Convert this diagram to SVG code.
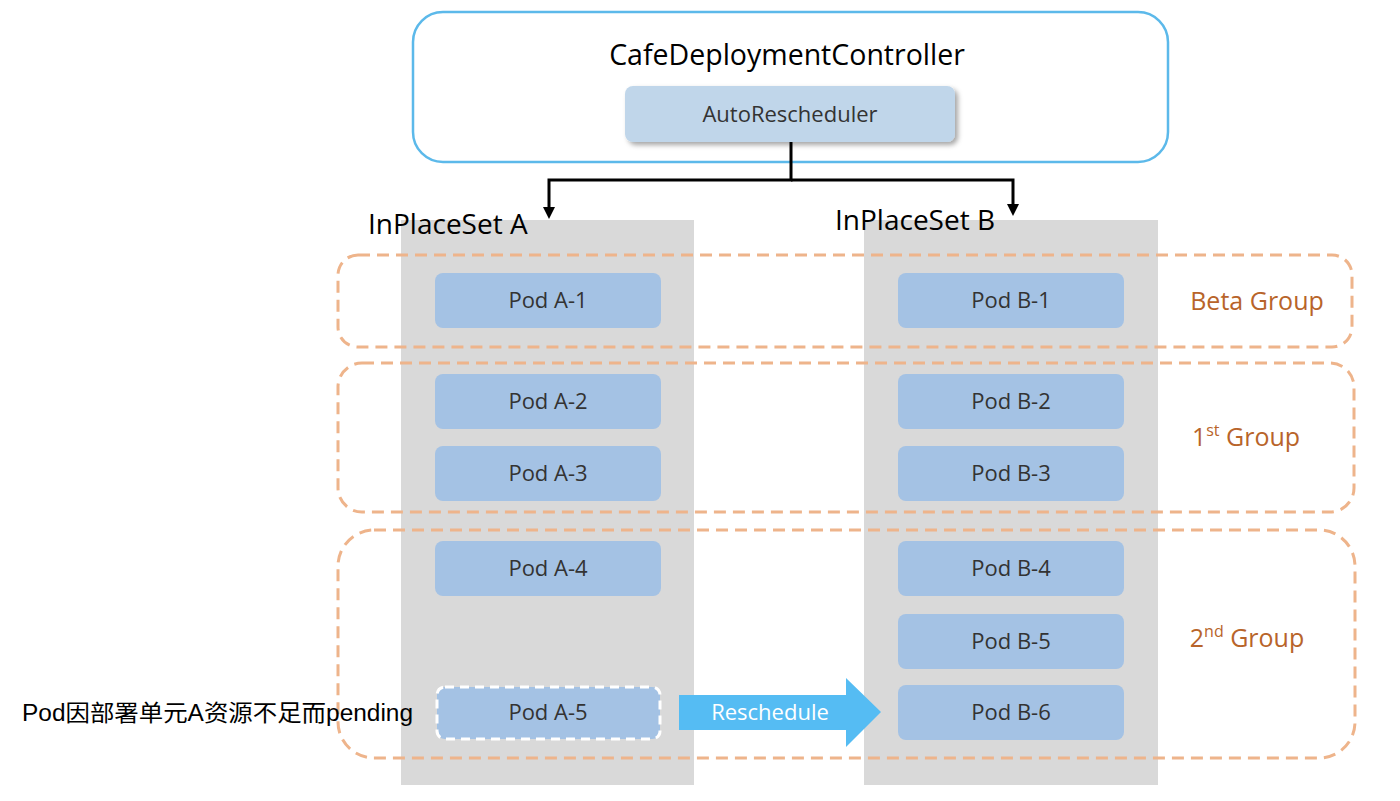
<svg xmlns="http://www.w3.org/2000/svg" width="1400" height="801" viewBox="0 0 1400 801">
<defs>
<style>
.col{fill:#d9d9d9;}
.pod{fill:#a4c2e4;}
.podt{font-family:"Open Sans","Liberation Sans",sans-serif;font-size:22px;fill:#333;text-anchor:middle;}
.grp{fill:none;stroke:#eeb48b;stroke-width:3;stroke-dasharray:12 7;}
.gl{font-family:"Open Sans","Liberation Sans",sans-serif;font-size:25px;fill:#b8642a;text-anchor:middle;}
.conn{fill:none;stroke:#000;stroke-width:3;}
</style>
<filter id="sh" x="-10%" y="-20%" width="130%" height="160%">
<feDropShadow dx="3" dy="3" stdDeviation="2.5" flood-color="#000" flood-opacity="0.35"/>
</filter>
</defs>
<rect width="1400" height="801" fill="#fff"/>

<g id="controller">
<rect x="413" y="12" width="755" height="150" rx="30" fill="#fff" stroke="#5cb9ea" stroke-width="2.5"/>
<text x="787" y="65" font-family="Open Sans, Liberation Sans, sans-serif" font-size="28.5" text-anchor="middle" fill="#000">CafeDeploymentController</text>
</g>
<g id="autorescheduler">
<rect x="625" y="86" width="330" height="56" rx="8" fill="#c0d6ea" filter="url(#sh)"/>
<text x="790" y="122" font-family="Open Sans, Liberation Sans, sans-serif" font-size="22" text-anchor="middle" fill="#333">AutoRescheduler</text>
</g>

<g id="inplaceset-a">
<rect class="col" x="401" y="220" width="293" height="565"/>
<text x="368" y="234" font-family="Open Sans, Liberation Sans, sans-serif" font-size="28" fill="#000">InPlaceSet A</text>
</g>
<g id="inplaceset-b">
<rect class="col" x="864" y="220" width="294" height="565"/>
<text x="835" y="230" font-family="Open Sans, Liberation Sans, sans-serif" font-size="28" fill="#000">InPlaceSet B</text>
</g>

<g id="connectors">
<polyline class="conn" points="791,142 791,180 549,180 549,210"/>
<polyline class="conn" points="791,180 1013,180 1013,207"/>
<path d="M543,207 L555,207 L549,219 Z" fill="#000"/>
<path d="M1007,204 L1019,204 L1013,216 Z" fill="#000"/>
</g>

<g id="pod-a1"><rect class="pod" x="435" y="273" width="226" height="55" rx="8"/><text class="podt" x="548" y="308">Pod A-1</text></g>
<g id="pod-a2"><rect class="pod" x="435" y="374" width="226" height="55" rx="8"/><text class="podt" x="548" y="409">Pod A-2</text></g>
<g id="pod-a3"><rect class="pod" x="435" y="446" width="226" height="55" rx="8"/><text class="podt" x="548" y="481">Pod A-3</text></g>
<g id="pod-a4"><rect class="pod" x="435" y="541" width="226" height="55" rx="8"/><text class="podt" x="548" y="576">Pod A-4</text></g>
<g id="pod-a5"><rect class="pod" x="437" y="687" width="223" height="52" rx="8" stroke="#fff" stroke-width="3" stroke-dasharray="9 6"/><text class="podt" x="548" y="720">Pod A-5</text></g>

<g id="pod-b1"><rect class="pod" x="898" y="273" width="226" height="55" rx="8"/><text class="podt" x="1011" y="308">Pod B-1</text></g>
<g id="pod-b2"><rect class="pod" x="898" y="374" width="226" height="55" rx="8"/><text class="podt" x="1011" y="409">Pod B-2</text></g>
<g id="pod-b3"><rect class="pod" x="898" y="446" width="226" height="55" rx="8"/><text class="podt" x="1011" y="481">Pod B-3</text></g>
<g id="pod-b4"><rect class="pod" x="898" y="541" width="226" height="55" rx="8"/><text class="podt" x="1011" y="576">Pod B-4</text></g>
<g id="pod-b5"><rect class="pod" x="898" y="614" width="226" height="55" rx="8"/><text class="podt" x="1011" y="649">Pod B-5</text></g>
<g id="pod-b6"><rect class="pod" x="898" y="685" width="226" height="55" rx="8"/><text class="podt" x="1011" y="720">Pod B-6</text></g>

<g id="beta-group">
<rect class="grp" x="338" y="255" width="1014" height="92" rx="20"/>
<text class="gl" x="1257" y="310">Beta Group</text>
</g>
<g id="first-group">
<rect class="grp" x="338" y="363" width="1016" height="149" rx="24"/>
<text class="gl" x="1246" y="446">1<tspan font-size="16" dy="-10">st</tspan><tspan dy="10"> Group</tspan></text>
</g>
<g id="second-group">
<rect class="grp" x="338" y="530" width="1017" height="228" rx="36"/>
<text class="gl" x="1247" y="647">2<tspan font-size="16" dy="-10">nd</tspan><tspan dy="10"> Group</tspan></text>
</g>

<g id="reschedule">
<path d="M679,695 L846,695 L846,678 L881,712 L846,747 L846,730 L679,730 Z" fill="#55bcf3"/>
<text x="770" y="720" font-family="Open Sans, Liberation Sans, sans-serif" font-size="22" text-anchor="middle" fill="#fff">Reschedule</text>
</g>

<g id="pending-note">
<text x="22" y="721" font-family="Liberation Sans, Noto Sans CJK SC, sans-serif" font-size="23" fill="#000" textLength="391" lengthAdjust="spacingAndGlyphs">Pod因部署单元A资源不足而pending</text>
</g>
</svg>
